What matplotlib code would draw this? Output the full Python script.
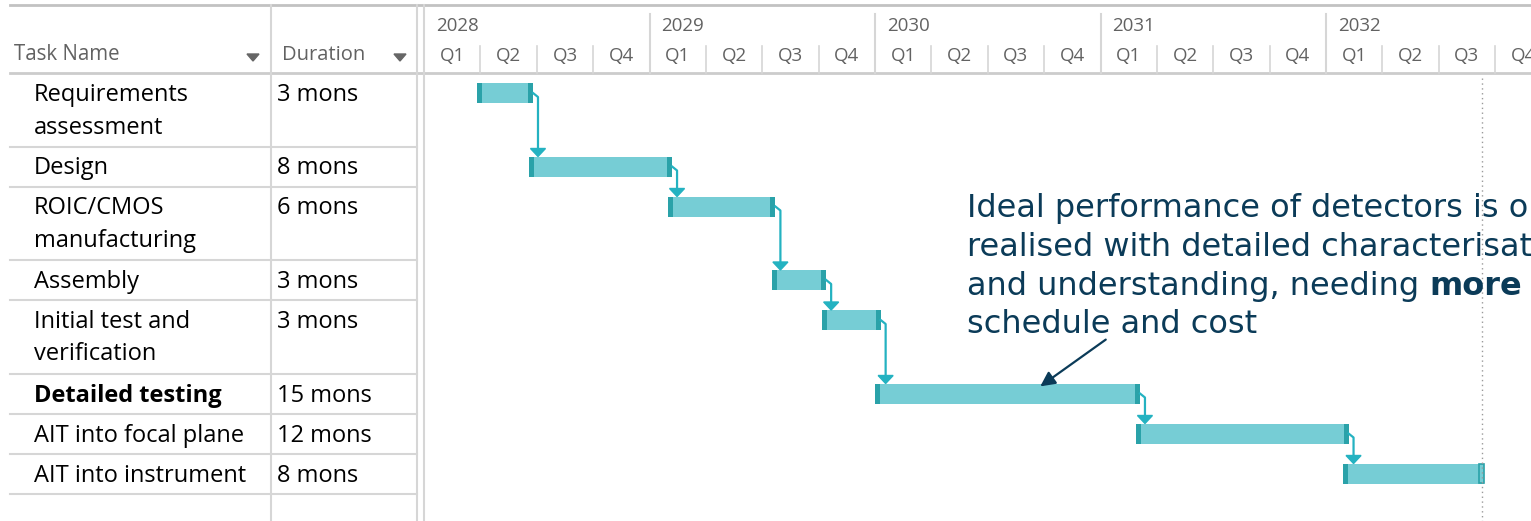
import numpy as np
import matplotlib.pyplot as plt
from matplotlib.patches import Polygon

tasks = ['Requirements\nassessment', 'Design', 'ROIC/CMOS\nmanufacturing', 'Assembly',
         'Initial test and\nverification', 'Detailed testing', 'AIT into focal plane',
         'AIT into instrument']
durations = ['3 mons', '8 mons', '6 mons', '3 mons', '3 mons', '15 mons', '12 mons', '8 mons']
# bar start / end in months counted from Jan 2028
start_month = [2.8, 5.6, 13.0, 18.5, 21.2, 24.0, 37.9, 48.9]
end_month = [5.8, 13.2, 18.7, 21.4, 24.3, 38.1, 49.2, 56.4]
years = ['2028', '2029', '2030', '2031', '2032']
quarters = ['Q1', 'Q2', 'Q3', 'Q4']
bold_rows = [5]
note_lines = ['Ideal performance of detectors is only',
              'realised with detailed characterisation',
              'and understanding, needing',
              'schedule and cost']
note_bold = 'more'

W, H = 1531, 521
X0 = 424            # left edge of timeline, px
MPX = 225.5 / 12    # px per month

light = '#76cdd5'
dark = '#2aa2a9'
conn = '#24b2c1'
grid = '#d6d6d6'
hdr = '#626262'
navy = '#0b3b58'
body_font = 'Open Sans'

fig = plt.figure(figsize=(W / 100, H / 100), dpi=100)
ax = fig.add_axes([0, 0, 1, 1])
ax.set_xlim(0, W)
ax.set_ylim(H, 0)
ax.axis('off')

gx = fig.add_axes([X0 / W, 0, 1 - X0 / W, 1])
gx.set_xlim(0, (W - X0) / MPX)
gx.set_ylim(H, 0)
gx.axis('off')
gx.patch.set_alpha(0)

# table frame
ax.plot([10, W], [5, 5], color='#c2c2c2', lw=2)
ax.plot([10, W], [73, 73], color='#cccccc', lw=2)
for x in [271, 417, 424]:
    ax.plot([x, x], [5, H], color=grid, lw=1.5)

nlines = [t.count('\n') + 1 for t in tasks]
tops = [73]
for n in nlines:
    tops.append(tops[-1] + 40 + 33.5 * (n - 1))
for y in tops[1:]:
    ax.plot([10, 417], [y, y], color=grid, lw=1.5)

# header
ax.text(14, 60, 'Task Name', fontsize=14.8, color=hdr, family='Open Sans', va='baseline')
ax.text(282, 60, 'Duration', fontsize=14.5, color=hdr, family='Open Sans', va='baseline')
for xa in [253, 400]:
    ax.add_patch(Polygon([(xa - 6, 54), (xa + 6, 54), (xa, 61)], color='#666666'))

# rows
for i, t in enumerate(tasks):
    w = 'bold' if i in bold_rows else 'normal'
    for j, part in enumerate(t.split('\n')):
        ax.text(34, tops[i] + 28 + 32.5 * j, part, fontsize=17, family=body_font,
                fontweight=w, va='baseline', color='black')
    ax.text(277, tops[i] + 28, durations[i], fontsize=17, family=body_font,
            va='baseline', color='black')

# timeline header
for k, yr in enumerate(years):
    x = k * 12
    if k > 0:
        gx.plot([x, x], [14, 73], color=grid, lw=1.5)
    gx.text(x + 12 / MPX, 31, yr, fontsize=13.5, color=hdr, family='Open Sans',
            va='baseline', clip_on=True)
    for q, ql in enumerate(quarters):
        xq = x + 3 * q
        if q > 0:
            gx.plot([xq, xq], [46, 73], color=grid, lw=1.2)
        gx.text(xq + 1.5, 61, ql, fontsize=13.5, color=hdr, family='Open Sans',
                ha='center', va='baseline', clip_on=True)

# bars
cy = [tops[i] + 20 for i in range(len(tasks))]
s = np.array(start_month)
e = np.array(end_month)
cap = 5 / MPX
gx.barh(cy, e - s, left=s, height=20, color=light)
gx.barh(cy, cap, left=s, height=20, color=dark)
gx.barh(cy[:-1], cap, left=e[:-1] - cap, height=20, color=dark)
gx.barh(cy[-1], cap, left=e[-1] - cap, height=19, color=light, edgecolor=dark, lw=1.2)

# links
for i in range(len(tasks) - 1):
    xv = e[i] + 5 / MPX
    ytop = cy[i + 1] - 10
    gx.plot([e[i], xv, xv], [cy[i], cy[i] + 4, ytop - 6], color=conn, lw=1.6)
    gx.add_patch(Polygon([(xv - 7.5 / MPX, ytop - 8), (xv + 7.5 / MPX, ytop - 8),
                          (xv, ytop)], color=conn))

# status line
gx.plot([e[-1] - 0.1, e[-1] - 0.1], [78, H], color='#9a9a9a', lw=1, ls=(0, (1, 2.5)))

# note (runs off the right edge as in the original screenshot)
xt = (967 - X0) / MPX
base = [217, 256, 295, 333]
txts = []
for line, yb in zip(note_lines, base):
    txts.append(gx.text(xt, yb, line, fontsize=23, color=navy, family='DejaVu Sans',
                        va='baseline', clip_on=True))
gx.annotate(note_bold, xy=(1, 0), xycoords=txts[2], xytext=(7.5, 0),
            textcoords='offset points', fontsize=23, color=navy, fontweight='bold',
            family='DejaVu Sans', va='bottom', ha='left', annotation_clip=False,
            clip_on=True)
gx.annotate('', xy=((1038 - X0) / MPX, 388), xytext=((1108 - X0) / MPX, 338),
            arrowprops=dict(arrowstyle='-|>', color=navy, lw=1.6, mutation_scale=22))

fig.savefig('out.png', dpi=100)
